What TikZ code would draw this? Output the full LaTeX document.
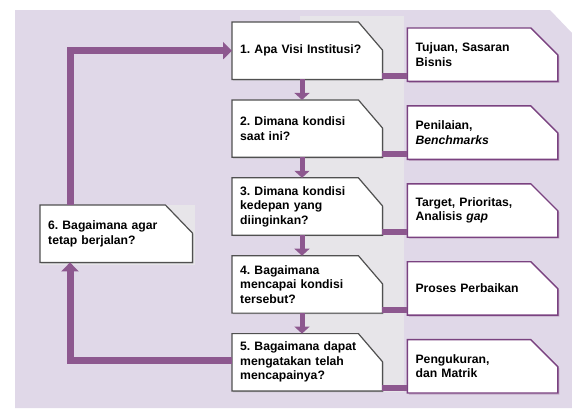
\documentclass[tikz,border=0pt]{standalone}
\usepackage{fontspec}
\setmainfont{Liberation Sans}
\usetikzlibrary{arrows.meta,positioning,backgrounds}

\definecolor{bglilac}{RGB}{224,216,232}
\definecolor{stripgray}{RGB}{231,229,233}
\definecolor{flowpurple}{RGB}{141,88,143}
\definecolor{edgepurple}{RGB}{122,66,128}
\definecolor{edgegray}{RGB}{80,80,80}
\definecolor{shadegray}{RGB}{170,168,172}
\definecolor{shadepurple}{RGB}{196,172,200}

\newcommand{\boxfont}{\fontsize{12.2}{14.5}\selectfont\bfseries\frenchspacing}

% box outline with a cut north east corner: node, style, cut x, cut y, shift
\newcommand{\cutbox}[5]{%
  \path[#2] ([shift={#5}]#1.south west) -- ([shift={#5}]#1.north west)
    -- ([shift={#5},xshift=-#3]#1.north east)
    -- ([shift={#5},yshift=-#4]#1.north east)
    -- ([shift={#5}]#1.south east) -- cycle;
}

\begin{document}
\begin{tikzpicture}[x=1pt,y=-1pt,>=Latex,line join=miter,
  qbox/.style={rectangle,text width=134pt,inner xsep=8pt,inner ysep=0pt,
    minimum height=57pt,align=left,font=\boxfont},
  abox/.style={rectangle,text width=134pt,inner xsep=8pt,inner ysep=0pt,
    minimum height=53pt,align=left,font=\boxfont},
  qline/.style={draw=edgegray,line width=1.2pt,fill=white},
  aline/.style={draw=edgepurple,line width=1.4pt,fill=white},
  qshade/.style={fill=shadegray},
  ashade/.style={fill=shadepurple},
  stepflow/.style={draw=flowpurple,line width=5pt,-{Triangle[width=15pt,length=7pt]}},
  linkbar/.style={draw=flowpurple,line width=6pt},
  loopflow/.style={draw=flowpurple,line width=7pt,-{Triangle[width=17pt,length=9pt]}}]

\useasboundingbox (0,0) rectangle (572,408);

% questions
\node[qbox,anchor=north west] (q1) at (232,22) {1. Apa Visi Institusi?};
\node[qbox,below=20.5pt of q1] (q2) {2. Dimana kondisi\\saat ini?};
\node[qbox,below=20.5pt of q2] (q3) {3. Dimana kondisi\\kedepan yang\\diinginkan?};
\node[qbox,below=20.5pt of q3] (q4) {4. Bagaimana\\mencapai kondisi\\tersebut?};
\node[qbox,below=20.5pt of q4] (q5) {5. Bagaimana dapat\\mengatakan telah\\mencapainya?};
\node[qbox,text width=136pt,anchor=north west] (q6) at (40,205) {6. Bagaimana agar\\tetap berjalan?};

% answers
\node[abox,right=25pt of q1.south east,anchor=south west,yshift=-2pt] (r1) {Tujuan, Sasaran\\Bisnis};
\node[abox,right=25pt of q2.south east,anchor=south west,yshift=-2pt] (r2) {Penilaian,\\\textit{Benchmarks}};
\node[abox,right=25pt of q3.south east,anchor=south west,yshift=-2pt] (r3) {Target, Prioritas,\\Analisis \textit{gap}};
\node[abox,right=25pt of q4.south east,anchor=south west,yshift=-2pt] (r4) {Proses Perbaikan};
\node[abox,right=25pt of q5.south east,anchor=south west,yshift=-2pt] (r5) {Pengukuran,\\dan Matrik};

\begin{pgfonlayer}{background}
  \fill[bglilac] (15,10) -- (550,10) -- (572,33) -- (572,408) -- (15,408) -- cycle;
  \fill[stripgray] (300,16) rectangle (404,392);
  \fill[stripgray] (q6.north west) rectangle ([shift={(3pt,-3pt)}]q6.south east);
  \foreach \n in {q1,q2,q3,q4,q5} {
    \cutbox{\n}{qshade}{24pt}{28pt}{(1pt,-1pt)}
    \cutbox{\n}{qline}{24pt}{28pt}{(0pt,0pt)}
  }
  \cutbox{q6}{qshade}{27pt}{28pt}{(1pt,-1pt)}
  \cutbox{q6}{qline}{27pt}{28pt}{(0pt,0pt)}
  \foreach \n in {r1,r2,r3,r4,r5} {
    \cutbox{\n}{ashade}{27pt}{27pt}{(1.5pt,-1.5pt)}
    \cutbox{\n}{aline}{27pt}{27pt}{(0pt,0pt)}
  }
\end{pgfonlayer}

% flow down the questions
\foreach \a/\b in {q1/q2,q2/q3,q3/q4,q4/q5}
  \draw[stepflow] ([xshift=70pt]\a.south west) -- ([xshift=70pt]\b.north west);

% links to the answers
\foreach \i in {1,...,5}
  \draw[linkbar] ([yshift=3pt]q\i.south east) -- ([yshift=3pt]q\i.south east -| r\i.west);

% loop back
\draw[loopflow] ([yshift=2pt]q5.west) -| ([xshift=30pt]q6.south west);
\draw[loopflow] ([xshift=30pt]q6.north west) |- (q1.west);

\end{tikzpicture}
\end{document}
